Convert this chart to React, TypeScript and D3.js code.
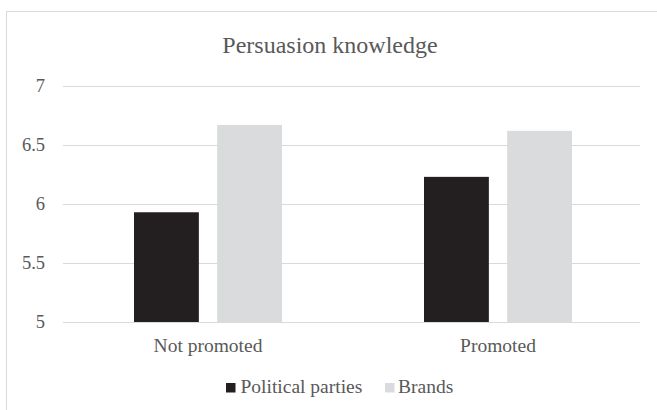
import React from "react";
import * as d3 from "d3";

const categories = ["Not promoted", "Promoted"];
const seriesNames = ["Political parties", "Brands"];
const politicalParties = [5.93, 6.23];
const brands = [6.67, 6.62];
const yTicks = [5, 5.5, 6, 6.5, 7];

const colors = ["#231f20", "#dadbdd"];
const W = 657;
const H = 410;
const font = "Liberation Serif, Times New Roman, Tinos, DejaVu Serif, serif";
const textColor = "#595959";

export default function App() {
  const margin = { left: 63, right: 14, top: 86, bottom: 88 };
  const x = d3.scaleBand<string>().domain(categories).range([margin.left, W - margin.right]).paddingInner(0).paddingOuter(0);
  const y = d3.scaleLinear().domain([5, 7]).range([H - margin.bottom, margin.top]);
  const x1 = d3.scaleBand<string>().domain(seriesNames).range([0, 148]).paddingInner(0.22).paddingOuter(0);
  const series = [politicalParties, brands];
  const bw = x.bandwidth();
  const ts = (size: number) => ({ fontFamily: font, fontSize: size, fill: textColor });

  return (
    <svg width={W} height={H} style={{ position: "absolute", left: 0, top: 0 }}>
      <rect x={0} y={0} width={W} height={H} fill="#fff" />
      <rect x={6.5} y={11.5} width={W + 10} height={H + 10} fill="none" stroke="#d9d9d9" strokeWidth={1} />
      <text x={330} y={53} textAnchor="middle" style={ts(24)}>
        Persuasion knowledge
      </text>
      {yTicks.map((t) => (
        <g key={t}>
          <line x1={margin.left} x2={W - margin.right - 3} y1={Math.round(y(t)) + 0.5} y2={Math.round(y(t)) + 0.5} stroke="#d9d9d9" strokeWidth={1} />
          <text x={45} y={y(t) + 6} textAnchor="end" style={ts(18.5)}>
            {t}
          </text>
        </g>
      ))}
      {categories.map((c, i) => {
        const gx = (x(c) as number) + bw / 2 - 74;
        return (
          <g key={c}>
            {series.map((s, j) => (
              <rect
                key={j}
                x={gx + (x1(seriesNames[j]) as number)}
                y={y(s[i])}
                width={x1.bandwidth()}
                height={y(5) - y(s[i])}
                fill={colors[j]}
              />
            ))}
            <text x={(x(c) as number) + bw / 2} y={352} textAnchor="middle" style={ts(19.5)}>
              {c}
            </text>
          </g>
        );
      })}
      <g>
        <rect x={226} y={383} width={9.5} height={9.5} fill={colors[0]} />
        <text x={240.5} y={393} style={ts(19.5)}>
          {seriesNames[0]}
        </text>
        <rect x={385} y={383} width={9.5} height={9.5} fill={colors[1]} />
        <text x={398} y={393} style={ts(19.5)}>
          {seriesNames[1]}
        </text>
      </g>
    </svg>
  );
}
